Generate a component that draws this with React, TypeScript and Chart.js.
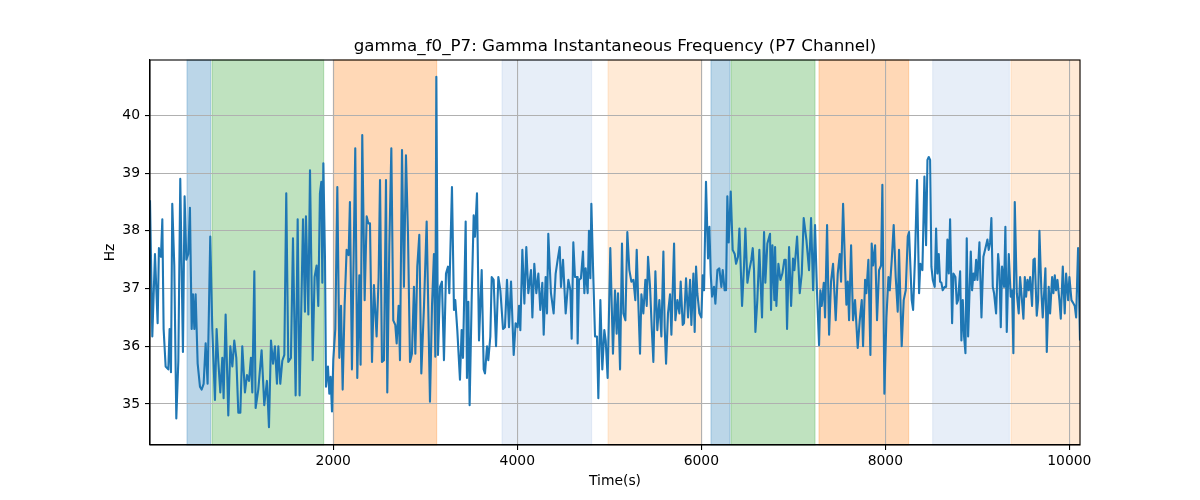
import { useEffect, useRef } from "react";
import { Chart, registerables, type ChartConfiguration, type Plugin } from "chart.js";

Chart.register(...registerables);

const TITLE = "gamma_f0_P7: Gamma Instantaneous Frequency (P7 Channel)";
const X_LABEL = "Time(s)";
const Y_LABEL = "Hz";

const X_MIN = 8;
const X_MAX = 10116;
const Y_MIN = 34.29;
const Y_MAX = 40.96;
const X_TICKS = [2000, 4000, 6000, 8000, 10000];
const Y_TICKS = [35, 36, 37, 38, 39, 40];

// time stamps (s) and instantaneous frequency (Hz)
const TIME_S = [
  8, 33, 62, 91, 105, 127, 142, 156, 178, 207, 221, 236, 250, 272, 294, 316, 337, 366, 384, 403,
  424, 442, 461, 475, 490, 504, 526, 551, 569, 591, 613, 634, 663, 685, 714, 732, 750, 772, 794, 808,
  830, 859, 881, 903, 924, 946, 968, 990, 1011, 1040, 1062, 1084, 1105, 1120, 1142, 1156, 1185, 1221, 1250, 1279,
  1301, 1323, 1345, 1366, 1388, 1403, 1424, 1446, 1468, 1489, 1511, 1540, 1562, 1591, 1613, 1634, 1671, 1692,
  1703, 1729, 1747, 1776, 1797, 1819, 1837, 1855, 1870, 1881, 1892, 1910, 1921, 1942, 1957, 1971, 1986, 2000,
  2022, 2044, 2066, 2084, 2102, 2123, 2145, 2167, 2181, 2203, 2239, 2261, 2283, 2297, 2315, 2341, 2363, 2381,
  2399, 2421, 2442, 2471, 2493, 2508, 2529, 2551, 2573, 2587, 2609, 2631, 2652, 2674, 2689, 2710, 2725, 2747,
  2768, 2790, 2812, 2834, 2855, 2877, 2892, 2913, 2935, 2957, 2986, 3015, 3051, 3073, 3094, 3109, 3120, 3138,
  3160, 3181, 3203, 3225, 3247, 3261, 3290, 3312, 3326, 3348, 3377,
  3395, 3410, 3439, 3453, 3468, 3482, 3504, 3526, 3540, 3562, 3584, 3613, 3635, 3649, 3671, 3685, 3707, 3722,
  3743, 3769, 3794, 3816, 3845, 3866, 3888, 3910, 3932, 3961, 3982, 4004, 4019, 4033, 4055, 4077, 4098, 4120,
  4149, 4164, 4185, 4207, 4229, 4250, 4272, 4287, 4308, 4323, 4337, 4366, 4395, 4417, 4439, 4461, 4475, 4497,
  4526, 4555, 4577, 4591, 4609, 4627, 4649, 4656, 4671, 4692, 4714, 4729, 4743, 4765, 4779, 4794, 4805, 4823,
  4845, 4866, 4881, 4903, 4924, 4946, 4961, 4982, 5011, 5040, 5062,
  5080, 5095, 5117, 5138, 5153, 5175, 5196, 5218, 5240, 5262, 5283, 5298, 5312, 5334, 5349, 5370, 5392, 5407,
  5421, 5443, 5461, 5479, 5501, 5522, 5544, 5566, 5588, 5602, 5617, 5638, 5660, 5675, 5704, 5718, 5740, 5762,
  5776, 5798, 5812, 5834, 5856, 5878, 5892, 5914, 5928, 5943, 5957, 5979, 6001, 6015, 6030, 6051, 6073, 6088,
  6102, 6117, 6138, 6153, 6175, 6196, 6218, 6233, 6254, 6269, 6283, 6298, 6320, 6341, 6363, 6378, 6399, 6414,
  6443, 6464, 6479, 6501, 6522, 6544, 6559, 6573, 6588, 6609, 6631, 6660, 6682, 6696, 6718, 6747,
  6758, 6773, 6794, 6802, 6816, 6838, 6860, 6881, 6903, 6918, 6932, 6954, 6976, 6997, 7012, 7041, 7070, 7092,
  7113, 7142, 7171, 7193, 7215, 7236, 7258, 7280, 7294, 7309, 7331, 7345, 7367, 7389, 7410, 7432, 7461, 7483,
  7505, 7519, 7541, 7563, 7577, 7592, 7606, 7628, 7649, 7671, 7700, 7722, 7744, 7758, 7780, 7794, 7816, 7838,
  7852, 7867, 7889, 7910, 7932, 7954, 7968, 7990, 8012, 8034, 8048, 8070, 8091, 8113, 8135, 8149, 8178, 8200,
  8222, 8244, 8258, 8287, 8302, 8323, 8345, 8367, 8381, 8403, 8425,
  8443, 8458, 8472, 8487, 8501, 8516, 8537, 8552, 8566, 8581, 8595, 8610, 8624, 8646, 8661, 8675, 8690, 8704,
  8726, 8740, 8762, 8777, 8791, 8813, 8827, 8842, 8856, 8871, 8885, 8900, 8929, 8943, 8958, 8972, 8987, 9001,
  9023, 9045, 9066, 9088, 9110, 9124, 9139, 9153, 9168, 9182, 9204, 9226, 9240, 9255, 9269, 9291, 9305, 9320,
  9342, 9363, 9378, 9392, 9407, 9429, 9450, 9465, 9479, 9501, 9516, 9530, 9545, 9559, 9574, 9595, 9610, 9624,
  9646, 9661, 9675, 9697, 9711, 9726, 9740, 9755, 9776, 9791, 9813, 9827, 9842, 9856, 9871, 9892, 9907, 9929,
  9950, 9965, 9987, 10001, 10023, 10045, 10059, 10074, 10095, 10116
];

const FREQ_HZ = [
  38.53, 36.17, 37.6, 36.4, 37.7, 37.55, 38.2, 36.3, 35.65, 35.6, 36.3, 35.55, 38.47, 37.4, 34.75, 35.75, 38.9, 35.9, 38.6, 37.5,
  37.6, 38.4, 36.3, 36.9, 36.3, 36.9, 35.7, 35.3, 35.25, 35.35, 36.05, 35.35, 37.9, 36.3, 35.07, 36.3, 35.75, 35.2, 35.8, 35.1,
  36.55, 34.8, 36.0, 35.65, 36.1, 35.8, 34.85, 34.85, 36.0, 35.2, 35.5, 35.4, 35.8, 35.2, 37.3, 34.93, 35.25, 35.93, 34.98, 35.4,
  34.6, 36.1, 35.7, 36.0, 35.35, 36.0, 35.35, 35.75, 35.85, 38.65, 35.73, 35.8, 37.87, 35.15, 38.2, 35.15, 38.2, 36.6,
  38.25, 36.55, 39.05, 35.76, 37.2, 37.4, 36.7, 38.65, 38.85, 37.1, 39.17, 37.5, 35.3, 35.65, 35.18, 35.47, 34.87, 35.76,
  36.3, 38.76, 35.8, 36.7, 35.25, 36.7, 37.67, 37.58, 38.5, 35.6, 39.43, 35.45, 37.23, 35.68, 39.66, 36.8, 38.25, 38.13,
  38.13, 35.73, 37.06, 36.17, 37.2, 38.88, 35.73, 35.76, 38.88, 35.2, 37.72, 39.43, 36.45, 36.37, 36.05, 36.7, 35.76, 39.4,
  37.03, 39.31, 37.95, 35.73, 35.87, 37.03, 35.87, 37.38, 37.93, 35.53, 36.7, 38.16, 35.04, 36.7, 37.6, 35.82, 40.67, 35.85,
  37.03, 37.12, 35.76, 37.26, 37.38, 36.92, 38.76, 36.63, 36.8, 36.28, 35.42,
  36.28, 35.8, 38.16, 35.45, 36.77, 34.98, 36.8, 38.27, 37.9, 38.65, 36.1, 37.32, 35.6, 35.53, 36.0, 35.76, 36.17, 37.2,
  37.15, 36.0, 37.2, 36.97, 36.3, 36.33, 37.15, 36.33, 37.12, 35.85, 36.4, 36.33, 36.7, 36.28, 37.67, 36.74, 37.72, 36.92,
  37.32, 36.5, 37.43, 36.92, 37.26, 36.63, 37.1, 36.2, 37.2, 36.57, 37.95, 36.92, 36.57, 37.26, 37.5, 37.72, 37.03, 37.5,
  36.57, 37.15, 36.97, 36.13, 37.8, 37.2, 37.2, 36.05, 37.15, 37.18, 37.64, 36.92, 37.35, 36.92, 38.0, 37.18, 38.47, 37.38,
  36.17, 36.17, 35.1, 36.8, 35.6, 36.28, 36.1, 35.45, 37.7, 35.87, 36.97,
  36.22, 36.92, 35.6, 37.78, 36.57, 36.45, 37.98, 37.32, 37.12, 37.15, 36.8, 37.67, 36.92, 35.87, 36.9, 36.57, 37.15, 36.7,
  37.55, 37.03, 36.33, 35.73, 37.3, 36.28, 36.8, 36.17, 37.64, 36.33, 35.7, 36.57, 36.9, 36.2, 37.78, 36.45, 36.8, 36.57,
  37.12, 36.37, 36.4, 37.18, 36.5, 37.15, 36.37, 37.26, 36.25, 37.38, 36.92, 36.57, 36.5, 37.23, 36.97, 38.85, 37.52, 38.07,
  37.26, 36.86, 37.03, 36.74, 37.32, 37.35, 37.03, 37.32, 36.97, 36.97, 38.6, 37.8, 38.68, 37.67, 37.6, 37.43, 37.55, 38.04,
  36.7, 37.38, 38.04, 37.1, 37.32, 37.5, 37.7, 37.32, 36.25, 36.8, 37.67, 36.5, 37.98, 37.1, 37.78, 37.95,
  36.63, 37.75, 36.8, 37.72, 36.7, 37.43, 37.15, 37.26, 37.5, 37.5, 36.3, 37.72, 36.7, 37.52, 37.32, 37.9, 36.92, 37.26,
  38.22, 37.85, 37.32, 38.22, 36.97, 38.1, 36.92, 36.02, 36.97, 36.7, 37.1, 36.5, 38.1, 36.2, 37.12, 37.43, 36.45, 37.26,
  37.6, 37.12, 38.47, 37.35, 36.72, 37.12, 36.45, 37.75, 36.45, 36.8, 35.97, 36.45, 36.8, 36.0, 37.15, 36.92, 37.5, 35.85,
  37.78, 37.4, 37.75, 36.45, 37.32, 37.4, 38.8, 35.18, 36.5, 37.2, 36.97, 37.5, 38.1, 37.2, 36.6, 37.67, 36.0, 36.8,
  36.97, 37.9, 37.98, 36.8, 36.63, 37.55, 38.88, 36.92, 37.43, 37.32, 38.94,
  37.75, 39.23, 39.28, 39.23, 37.38, 37.15, 37.03, 38.04, 37.26, 37.6, 37.12, 37.1, 36.97, 37.03, 37.03, 37.85, 37.26, 38.2,
  36.4, 37.26, 37.2, 36.74, 36.8, 37.3, 36.1, 36.8, 36.17, 35.88, 37.87, 36.17, 37.64, 36.97, 37.26, 37.15, 37.5, 37.15,
  37.8, 36.5, 37.55, 37.7, 37.85, 37.67, 37.8, 38.22, 37.03, 36.92, 36.57, 37.6, 37.32, 36.33, 37.38, 37.03, 38.07, 36.25,
  37.6, 36.86, 36.97, 35.88, 38.5, 36.92, 36.57, 37.2, 36.92, 36.48, 37.2, 36.86, 37.15, 36.97, 37.2, 36.7, 37.5, 37.52,
  36.53, 36.8, 38.0, 36.92, 36.5, 36.92, 37.35, 35.9, 37.03, 36.57, 37.2, 36.92, 37.23, 36.97, 37.15, 36.8, 36.48, 37.38,
  36.57, 37.26, 36.8, 37.2, 36.8, 36.74, 36.7, 36.5, 37.7, 36.1
];

// shaded condition windows (s)
const SPAN_START = [410, 682, 2000, 3834, 4986, 6105, 6323, 7279, 8515, 9366];
const SPAN_END = [667, 1896, 3124, 4808, 6004, 6312, 7236, 8254, 9348, 10116];
const SPAN_KIND = ["blue", "green", "orange", "lightblue", "lightorange", "blue", "green", "orange", "lightblue", "lightorange"];

const SPAN_COLORS: Record<string, string> = {
  blue: "rgba(31,119,180,0.3)",
  green: "rgba(44,160,44,0.3)",
  orange: "rgba(255,127,14,0.3)",
  lightblue: "rgba(174,199,232,0.3)",
  lightorange: "rgba(255,187,120,0.3)"
};

const FONT = "DejaVu Sans";
const tickFont = { family: FONT, size: 13.9 };

const spansPlugin: Plugin<"line"> = {
  id: "spans",
  beforeDraw(chart) {
    const { ctx, chartArea, scales } = chart;
    const x = scales.x;
    ctx.save();
    SPAN_START.forEach((s, i) => {
      const x0 = x.getPixelForValue(s);
      const x1 = Math.min(x.getPixelForValue(SPAN_END[i]), chartArea.right);
      const col = SPAN_COLORS[SPAN_KIND[i]];
      ctx.fillStyle = col;
      ctx.fillRect(x0, chartArea.top, x1 - x0, chartArea.bottom - chartArea.top);
      ctx.strokeStyle = col;
      ctx.lineWidth = 1;
      ctx.strokeRect(x0, chartArea.top, x1 - x0, chartArea.bottom - chartArea.top);
    });
    ctx.restore();
  },
  afterDraw(chart) {
    const { ctx, chartArea } = chart;
    ctx.save();
    ctx.strokeStyle = "#000";
    ctx.lineWidth = 1.1;
    ctx.strokeRect(chartArea.left, chartArea.top, chartArea.right - chartArea.left, chartArea.bottom - chartArea.top);
    ctx.fillStyle = "#000";
    ctx.font = `16.7px "${FONT}"`;
    ctx.textAlign = "center";
    ctx.textBaseline = "alphabetic";
    ctx.fillText(TITLE, (chartArea.left + chartArea.right) / 2, 51);
    ctx.restore();
  }
};

export default function App() {
  const ref = useRef<HTMLCanvasElement | null>(null);

  useEffect(() => {
    document.body.style.margin = "0";
    if (!ref.current) return;
    const config: ChartConfiguration<"line"> = {
      type: "line",
      data: {
        datasets: [
          {
            label: "gamma_f0_P7",
            data: TIME_S.map((t, i) => ({ x: t, y: FREQ_HZ[i] })),
            borderColor: "#1f77b4",
            backgroundColor: "#1f77b4",
            borderWidth: 2.1,
            borderJoinStyle: "round",
            pointRadius: 0,
            tension: 0,
            fill: false
          }
        ]
      },
      options: {
        animation: false,
        responsive: false,
        devicePixelRatio: 1,
        layout: { padding: { top: 60, right: 120, left: 0, bottom: 0 } },
        plugins: { legend: { display: false }, title: { display: false }, tooltip: { enabled: false } },
        scales: {
          x: {
            type: "linear",
            min: X_MIN,
            max: X_MAX,
            afterFit: (s) => {
              s.height = 55;
            },
            afterBuildTicks: (s) => {
              s.ticks = X_TICKS.map((v) => ({ value: v }));
            },
            grid: { color: "#b0b0b0", lineWidth: 1.1, tickColor: "#000", tickLength: 5, tickWidth: 1.1 },
            border: { display: true, color: "#000", width: 1.1 },
            ticks: {
              color: "#000",
              font: tickFont,
              padding: 3,
              maxRotation: 0,
              autoSkip: false,
              callback: (v) => String(v)
            },
            title: {
              display: true,
              text: X_LABEL,
              color: "#000",
              font: tickFont,
              padding: { top: 0, bottom: 10 }
            }
          },
          y: {
            type: "linear",
            min: Y_MIN,
            max: Y_MAX,
            afterFit: (s) => {
              s.width = 150;
            },
            afterBuildTicks: (s) => {
              s.ticks = Y_TICKS.map((v) => ({ value: v }));
            },
            grid: { color: "#b0b0b0", lineWidth: 1.1, tickColor: "#000", tickLength: 5, tickWidth: 1.1 },
            border: { display: true, color: "#000", width: 1.1 },
            ticks: { color: "#000", font: tickFont, padding: 5, autoSkip: false, callback: (v) => String(v) },
            title: {
              display: true,
              text: Y_LABEL,
              color: "#000",
              font: tickFont,
              padding: { top: 102, bottom: 0 }
            }
          }
        }
      },
      plugins: [spansPlugin]
    };
    const chart = new Chart(ref.current, config);
    return () => chart.destroy();
  }, []);

  return (
    <div style={{ width: 1200, height: 500, background: "#fff" }}>
      <canvas ref={ref} width={1200} height={500} />
    </div>
  );
}
